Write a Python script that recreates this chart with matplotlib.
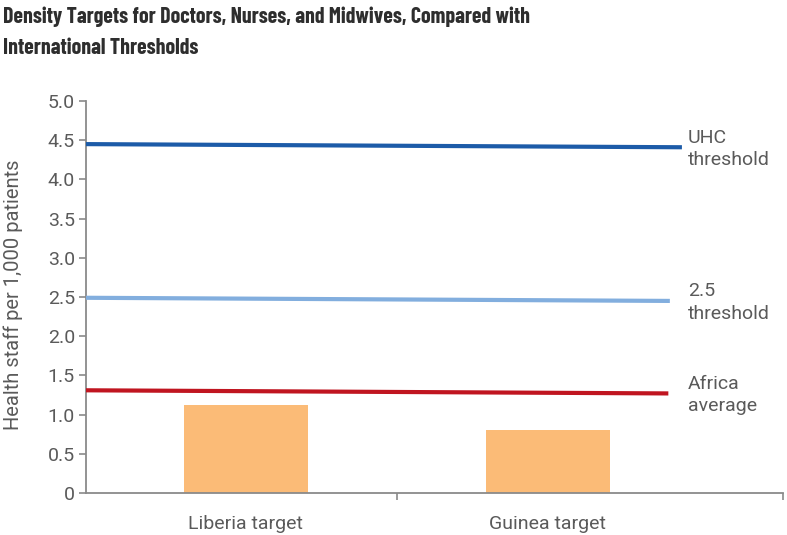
import matplotlib
matplotlib.use("Agg")
import matplotlib.pyplot as plt

# data
categories = ["Liberia target", "Guinea target"]
targets = [1.12, 0.80]

threshold_names = ["UHC\nthreshold", "2.5\nthreshold", "Africa\naverage"]
threshold_start = [4.45, 2.49, 1.31]
threshold_end = [4.41, 2.45, 1.27]
threshold_colors = ["#1c5ba8", "#82aede", "#c01520"]

yticks = [0, 0.5, 1.0, 1.5, 2.0, 2.5, 3.0, 3.5, 4.0, 4.5, 5.0]
yticklabels = ["0", "0.5", "1.0", "1.5", "2.0", "2.5", "3.0", "3.5", "4.0", "4.5", "5.0"]

title_lines = ["Density Targets for Doctors, Nurses, and Midwives, Compared with",
               "International Thresholds"]

BODY = ["Roboto", "DejaVu Sans"]
TITLE = ["Barlow Condensed", "Roboto Condensed", "DejaVu Sans"]
GREY = "#5a5a5a"
plt.rcParams["font.family"] = BODY

W, H = 787, 535
fig = plt.figure(figsize=(W / 100, H / 100), dpi=100)
ax = fig.add_axes([86 / W, 42 / H, 697 / W, 392 / H])

xs = list(range(len(categories)))
ax.bar(xs, targets, width=0.41, color="#fbbb77", zorder=1)

line_ends = [1.445, 1.405, 1.40]
for name, y0, y1, c, xe in zip(threshold_names, threshold_start, threshold_end,
                               threshold_colors, line_ends):
    ax.plot([-0.53, xe], [y0, y1], color=c, lw=3, solid_capstyle="butt", zorder=3)
    ax.text(1.465, y1 - 0.02, name, color=GREY, fontsize=14, va="center", ha="left",
            linespacing=1.3)

ax.set_xlim(-0.53, 1.78)
ax.set_ylim(0, 5.0)
ax.set_yticks(yticks)
ax.set_yticklabels(yticklabels, fontsize=14, color=GREY)
ax.set_xticks([0.5, 1.78])
ax.set_xticklabels([])
for x, lab in zip(xs, categories):
    ax.text(x, -0.46, lab, ha="center", va="baseline", fontsize=14, color=GREY)

for s in ["top", "right"]:
    ax.spines[s].set_visible(False)
for s in ["left", "bottom"]:
    ax.spines[s].set_color("#8a8a8a")
    ax.spines[s].set_linewidth(1.3)
ax.tick_params(axis="both", colors="#8a8a8a", length=5, width=1.2)
ax.tick_params(axis="y", labelcolor=GREY, pad=3)

ax.set_ylabel("Health staff per 1,000 patients", fontsize=14.5, color=GREY)
ax.yaxis.set_label_coords(-0.09, 0.505)

for line, base in zip(title_lines, [23, 54]):
    fig.text(3 / W, 1 - base / H, line, family=TITLE, fontsize=15.8, fontweight=700,
             color="#2e2e2e", va="baseline", ha="left")

fig.savefig("out.png", dpi=100)
